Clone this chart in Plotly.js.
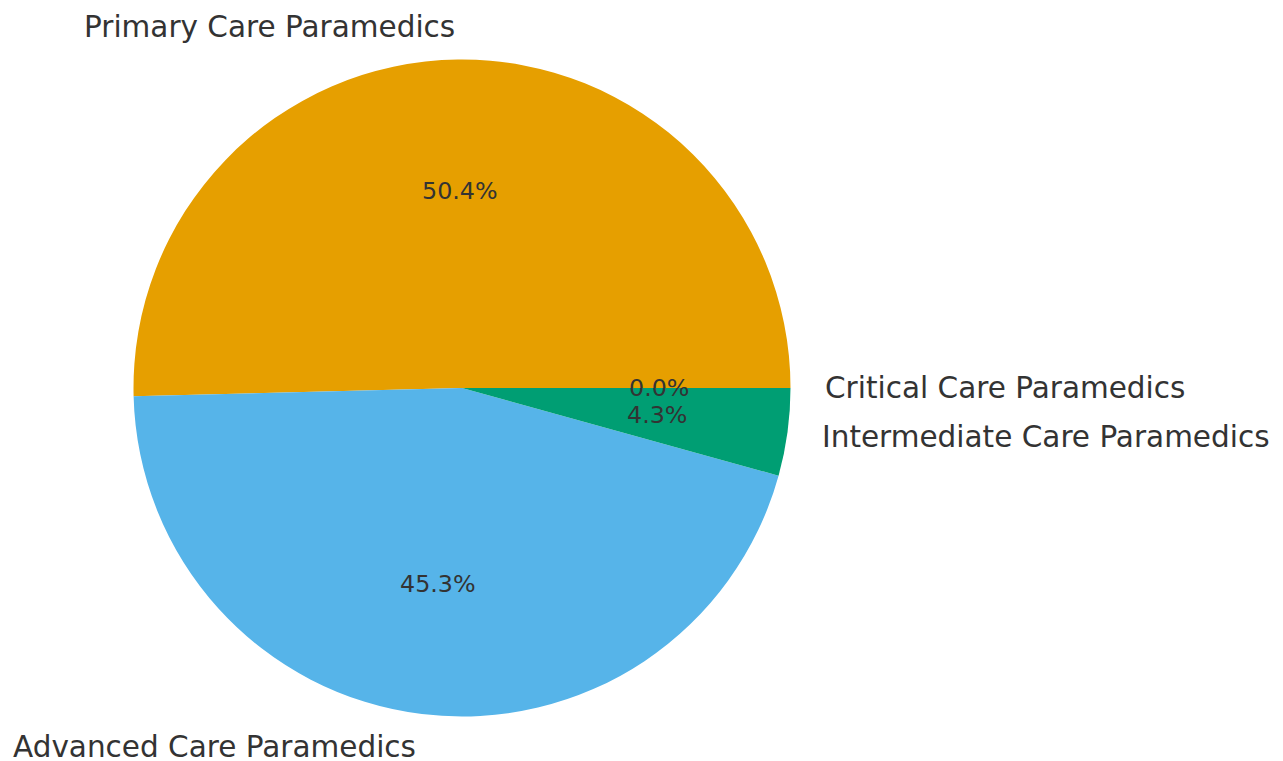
<!DOCTYPE html>
<html>
<head>
<meta charset="utf-8">
<script src="https://cdn.plot.ly/plotly-3.0.1.min.js"></script>
<style>html,body{margin:0;padding:0;background:#fff;}#chart{width:1283px;height:761px;}</style>
</head>
<body>
<div id="chart"></div>
<script>
const categories = ["Primary Care Paramedics", "Advanced Care Paramedics", "Intermediate Care Paramedics", "Critical Care Paramedics"];
const shares = [50.4, 45.3, 4.3, 0.0];
const sliceColors = ["#E69F00", "#56B4E9", "#009E73", "#F0E442"];

const W = 1283, H = 761;
const cx = 462, cy = 388, R = 328.5;
const domX = [(cx - R) / W, (cx + R) / W];
const domY = [1 - (cy + R) / H, 1 - (cy - R) / H];

const total = shares.reduce((a, b) => a + b, 0);
const annotations = [];
let start = 0;
shares.forEach((v, i) => {
  const span = v / total * 2 * Math.PI;
  const mid = start + span / 2;
  start += span;
  const c = Math.cos(mid), s = Math.sin(mid);
  annotations.push({
    xref: 'x', yref: 'y', x: 1.1 * c, y: 1.1 * s,
    text: categories[i], showarrow: false,
    xanchor: c >= 0 ? 'left' : 'right', yanchor: 'middle',
    font: {family: 'DejaVu Sans', size: 29.5, color: '#333333'}
  });
  annotations.push({
    xref: 'x', yref: 'y', x: 0.6 * c, y: 0.6 * s,
    text: (v / total * 100).toFixed(1) + '%', showarrow: false,
    xanchor: 'center', yanchor: 'middle',
    font: {family: 'DejaVu Sans', size: 23.8, color: '#333333'}
  });
});

// Plotly counterclockwise pies end the first slice at `rotation` (measured clockwise from 12 o'clock);
// start the first slice at 3 o'clock like the reference.
const rotationDeg = 90 - 360 * shares[0] / total;

const data = [{
  type: 'pie',
  labels: categories,
  values: shares,
  sort: false,
  direction: 'counterclockwise',
  rotation: rotationDeg,
  textinfo: 'none',
  hoverinfo: 'label+percent',
  marker: {colors: sliceColors, line: {width: 0}},
  domain: {x: domX, y: domY},
  showlegend: false
}];

const layout = {
  width: W, height: H,
  margin: {l: 0, r: 0, t: 0, b: 0},
  paper_bgcolor: '#ffffff', plot_bgcolor: 'rgba(0,0,0,0)',
  showlegend: false,
  xaxis: {domain: [0, 1], range: [-cx / R, (W - cx) / R], visible: false, fixedrange: true},
  yaxis: {domain: [0, 1], range: [-(H - cy) / R, cy / R], visible: false, fixedrange: true},
  annotations: annotations
};

Plotly.newPlot('chart', data, layout, {displayModeBar: false, staticPlot: true});
</script>
</body>
</html>
